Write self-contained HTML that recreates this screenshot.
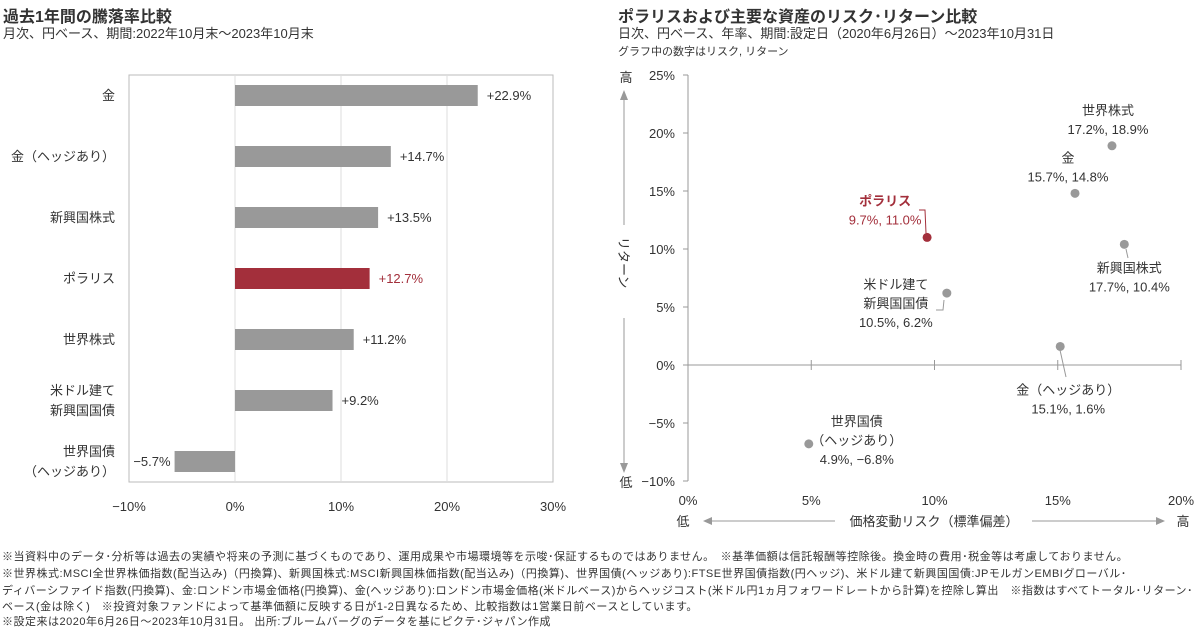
<!DOCTYPE html>
<html><head><meta charset="utf-8">
<style>
body{margin:0;width:1200px;height:627px;background:#fff;overflow:hidden;font-family:"Liberation Sans","Noto Sans CJK JP",sans-serif;color:#333;position:relative}
.t{position:absolute;white-space:nowrap}
.fn{position:absolute;left:2px;font-size:11px;color:#333;white-space:nowrap;letter-spacing:0.5px}
</style></head><body>
<div class="t" style="left:3px;top:3px;font-size:16px;font-weight:bold;color:#333">過去1年間の騰落率比較</div>
<div class="t" style="left:3px;top:23px;font-size:13px">月次、円ベース、期間:2022年10月末～2023年10月末</div>
<div class="t" style="left:618px;top:3px;font-size:16px;font-weight:bold">ポラリスおよび主要な資産のリスク･リターン比較</div>
<div class="t" style="left:618px;top:23px;font-size:13px">日次、円ベース、年率、期間:設定日（2020年6月26日）～2023年10月31日</div>
<div class="t" style="left:618px;top:43px;font-size:11px">グラフ中の数字はリスク, リターン</div>

<svg id="chart" width="1200" height="627" style="position:absolute;left:0;top:0" font-family="Liberation Sans, Noto Sans CJK JP, sans-serif"></svg>

<div class="fn" style="top:548px">※当資料中のデータ･分析等は過去の実績や将来の予測に基づくものであり、運用成果や市場環境等を示唆･保証するものではありません。　※基準価額は信託報酬等控除後。換金時の費用･税金等は考慮しておりません。</div>
<div class="fn" style="top:565px">※世界株式:MSCI全世界株価指数(配当込み)（円換算)、新興国株式:MSCI新興国株価指数(配当込み)（円換算)、世界国債(ヘッジあり):FTSE世界国債指数(円ヘッジ)、米ドル建て新興国国債:JPモルガンEMBIグローバル･</div>
<div class="fn" style="top:582px">ディバーシファイド指数(円換算)、金:ロンドン市場金価格(円換算)、金(ヘッジあり):ロンドン市場金価格(米ドルベース)からヘッジコスト(米ドル円1ヵ月フォワードレートから計算)を控除し算出　※指数はすべてトータル･リターン･</div>
<div class="fn" style="top:598px">ベース(金は除く)　※投資対象ファンドによって基準価額に反映する日が1-2日異なるため、比較指数は1営業日前ベースとしています。</div>
<div class="fn" style="top:613px">※設定来は2020年6月26日～2023年10月31日。 出所:ブルームバーグのデータを基にピクテ･ジャパン作成</div>

<script>
const barCategories=[["金"],["金（ヘッジあり）"],["新興国株式"],["ポラリス"],["世界株式"],["米ドル建て","新興国国債"],["世界国債","（ヘッジあり）"]];
const barValues=[22.9,14.7,13.5,12.7,11.2,9.2,-5.7];
const barLabels=["+22.9%","+14.7%","+13.5%","+12.7%","+11.2%","+9.2%","−5.7%"];
const barTicks=[-10,0,10,20,30];
const scNames=[["世界株式"],["金"],["ポラリス"],["新興国株式"],["米ドル建て","新興国国債"],["金（ヘッジあり）"],["世界国債","（ヘッジあり）"]];
const scRisk=[17.2,15.7,9.7,17.7,10.5,15.1,4.9];
const scReturn=[18.9,14.8,11.0,10.4,6.2,1.6,-6.8];
const xTicks=[0,5,10,15,20];
const yTicks=[25,20,15,10,5,0,-5,-10];

const svg=document.getElementById('chart');const NS='http://www.w3.org/2000/svg';
function el(t,a,p){const e=document.createElementNS(NS,t);for(const k in a)e.setAttribute(k,a[k]);(p||svg).appendChild(e);return e;}
function txt(s,x,y,a,p){const e=el('text',Object.assign({x:x,y:y,'font-size':13,fill:'#333'},a),p);e.textContent=s;return e;}
const RED='#a32f3b',GRAY='#999';
// bar chart
const bx=v=>235+(v)*10.6; const by=i=>95+i*61;
const g1=el('g',{});
const frame=el('rect',{x:129,y:75,width:424,height:407,fill:'none',stroke:'#bbb'},g1);

barTicks.forEach(t=>{if(t>-10&&t<30){const l=el('line',{x1:bx(t),x2:bx(t),y1:75,y2:482,stroke:'#ddd'},g1);}
 const tl=txt((t<0?'−':'')+Math.abs(t)+'%',bx(t),511,{'text-anchor':'middle'},g1);});
barValues.forEach((v,i)=>{const pol=barCategories[i][0]==='ポラリス';
 const r=el('rect',{x:Math.min(bx(0),bx(v)),y:by(i)-10,width:Math.abs(bx(v)-bx(0)),height:21,fill:pol?RED:GRAY},g1);
 
 const lx=v>=0?bx(v)+9:bx(v)-4;
 const vl=txt(barLabels[i],lx,by(i)+5,{'text-anchor':v>=0?'start':'end',fill:pol?RED:'#333'},g1);
 
 const c=barCategories[i];c.forEach((s,j)=>{const cl=txt(s,115,by(i)+5+(j-(c.length-1)/2)*20,{'text-anchor':'end'},g1);
  });
});
// scatter
const sx=v=>688+v*24.65, sy=v=>365-v*11.6;
const g2=el('g',{});
const ya=el('line',{x1:688,x2:688,y1:sy(25),y2:sy(-10),stroke:'#999'},g2);
const xa=el('line',{x1:688,x2:sx(20),y1:sy(0),y2:sy(0),stroke:'#999'},g2);
yTicks.forEach(t=>{el('line',{x1:683,x2:688,y1:sy(t),y2:sy(t),stroke:'#999'},g2);
 const l=txt((t<0?'−':'')+Math.abs(t)+'%',675,sy(t)+5,{'text-anchor':'end'},g2);});
xTicks.forEach(t=>{if(t>0)el('line',{x1:sx(t),x2:sx(t),y1:sy(0)-5,y2:sy(0)+5,stroke:'#999'},g2);
 const l=txt(t+'%',sx(t),505,{'text-anchor':'middle'},g2);});
// axis titles
txt('高',626,82,{'text-anchor':'middle'},g2);txt('低',626,487,{'text-anchor':'middle'},g2);
el('line',{x1:624,x2:624,y1:98,y2:225,stroke:'#999'},g2);el('line',{x1:624,x2:624,y1:318,y2:465,stroke:'#999'},g2);
el('path',{d:'M620,100 L624,90 L628,100Z',fill:'#999'},g2);el('path',{d:'M620,463 L624,473 L628,463Z',fill:'#999'},g2);
const yt=txt('リターン',0,0,{'font-size':13,transform:'translate(619,237) rotate(90)'},g2);
txt('低',683,526,{'text-anchor':'middle'},g2);txt('高',1183,526,{'text-anchor':'middle'},g2);
el('line',{x1:708,x2:835,y1:521,y2:521,stroke:'#999'},g2);el('line',{x1:1032,x2:1160,y1:521,y2:521,stroke:'#999'},g2);
el('path',{d:'M712,517 L703,521 L712,525Z',fill:'#999'},g2);el('path',{d:'M1156,517 L1165,521 L1156,525Z',fill:'#999'},g2);
const xt=txt('価格変動リスク（標準偏差）',934,526,{'text-anchor':'middle'},g2);
// label offsets: [dx of text center, dy of first baseline] relative to point
const lblOff=[[-4,-31],[-7,-31],[-42,-32],[5,28],[-51,-4],[8,48],[48,-18]];
scRisk.forEach((r,i)=>{const pol=scNames[i][0]==='ポラリス';const px=sx(r),py=sy(scReturn[i]);
 const c=el('circle',{cx:px,cy:py,r:4.5,fill:pol?RED:GRAY},g2);
 const lines=scNames[i].concat([r.toFixed(1)+'%, '+(scReturn[i]<0?'−':'')+Math.abs(scReturn[i]).toFixed(1)+'%']);
 const [ox,oy]=lblOff[i];
 lines.forEach((s,j)=>{const l=txt(s,px+ox,py+oy+j*19,{'text-anchor':'middle',fill:pol?RED:'#333','font-weight':(pol&&j==0)?'bold':'normal'},g2);
  });
});
el('path',{d:'M919,210 L925,210 L926,233',fill:'none',stroke:RED},g2);
el('path',{d:'M936,310 L943,310 L944,300',fill:'none',stroke:'#999'},g2);
el('path',{d:'M1060,350 L1066,377',fill:'none',stroke:'#999'},g2);
el('path',{d:'M1126,249 L1128,258',fill:'none',stroke:'#999'},g2);
</script>
</body></html>
